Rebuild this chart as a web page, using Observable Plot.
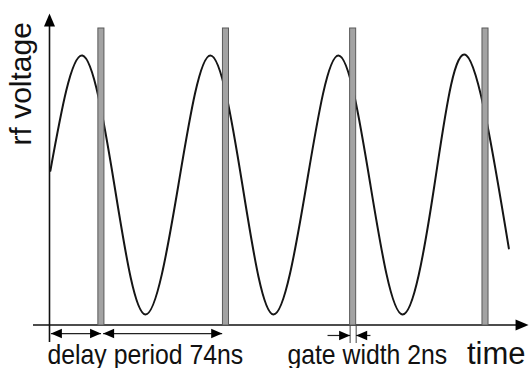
<!DOCTYPE html>
<html>
<head>
<meta charset="utf-8">
<script src="https://cdn.jsdelivr.net/npm/d3@7"></script>
<script src="https://cdn.jsdelivr.net/npm/@observablehq/plot@0.6"></script>
<style>
  html, body { margin: 0; padding: 0; background: #fff; }
</style>
</head>
<body>
<div id="chart"></div>
<script>
// RF waveform read at quarter-period points (time in ns, voltage in units of amplitude)
const waveTime    = [0.5, 19, 37.5, 55.5, 74.5, 93, 111.5, 129.5, 148.5, 167, 185.5, 204, 222.5, 241, 265.5];
const waveVoltage = [0.11, 1, 0, -1, 0, 1, 0, -1, 0, 1, 0, -1, 0, 1, -0.49];

// gate centres (ns) and drawn gate width (ns)
const gateCenters = [30, 102, 175.5, 252];
const gateDrawnWidth = 3.5;

// dimension arrows (ns)
const delaySpan  = [0.8, 29.8];
const periodSpan = [31, 99.8];
const gateArrowFrom = [160.7, 185.5];

// labels
const labelDelay = "delay period 74ns";
const labelGate = "gate width 2ns";
const labelTime = "time";
const labelVoltage = "rf voltage";

const wave = waveTime.map((t, i) => ({t, v: waveVoltage[i]}));
const gates = gateCenters.map(c => ({x1: c - gateDrawnWidth / 2, x2: c + gateDrawnWidth / 2}));
const g3 = gates[2];
const gateArrows = [
  {from: gateArrowFrom[0], to: g3.x1},
  {from: gateArrowFrom[1], to: g3.x2}
];

const axisY = -1.081;   // level of time axis
const dimY = -1.147;    // level of delay/period arrows
const gateY = -1.162;   // level of gate-width arrows

function head(len, w) {
  return {draw(ctx) { ctx.moveTo(0, 0); ctx.lineTo(-w / 2, len); ctx.lineTo(w / 2, len); ctx.closePath(); }};
}
const smallHead = head(11, 9.5);
const bigHead = head(13, 11);

const dimLinks = [
  {x1: delaySpan[0], x2: delaySpan[1], y: dimY},
  {x1: periodSpan[0], x2: periodSpan[1], y: dimY}
];
const dimHeads = [
  {x: delaySpan[0], y: dimY, r: -90},
  {x: delaySpan[1], y: dimY, r: 90},
  {x: periodSpan[0], y: dimY, r: -90},
  {x: periodSpan[1], y: dimY, r: 90},
  ...gateArrows.map(a => ({x: a.to, y: gateY, r: a.to > a.from ? 90 : -90}))
];

const font = "'Liberation Sans', Arial, Helvetica, sans-serif";

const plot = Plot.plot({
  width: 530,
  height: 368,
  margin: 0,
  x: {domain: [0, 252], range: [49, 485], axis: null},
  y: {domain: [-1, 1], range: [314, 55], axis: null},
  style: {fontFamily: font, background: "#fff", color: "#000"},
  marks: [
    // axes
    Plot.ruleY([axisY], {x1: -9.25, x2: 270.5, stroke: "#111", strokeWidth: 1.6}),
    Plot.ruleX([0], {y1: -1.216, y2: 1.232, stroke: "#111", strokeWidth: 1.6}),
    Plot.dot([{x: 276.9, y: axisY}], {x: "x", y: "y", symbol: bigHead, rotate: 90, fill: "#000", stroke: "none"}),
    Plot.dot([{x: 0, y: 1.324}], {x: "x", y: "y", symbol: bigHead, rotate: 0, fill: "#000", stroke: "none"}),
    // waveform
    Plot.line(wave, {x: "t", y: "v", curve: "natural", stroke: "#151515", strokeWidth: 2}),
    // gates
    Plot.rectX(gates, {x1: "x1", x2: "x2", y1: -1.085, y2: 1.2085, fill: "#a3a3a3", stroke: "#5a5a5a", strokeWidth: 1}),
    Plot.ruleX([g3.x1, g3.x2], {y1: -1.085, y2: -1.224, stroke: "#444", strokeWidth: 1}),
    // dimension arrows
    Plot.link(dimLinks, {x1: "x1", x2: "x2", y1: "y", y2: "y", stroke: "#222", strokeWidth: 1.2}),
    Plot.link(gateArrows, {x1: "from", x2: "to", y1: gateY, y2: gateY, stroke: "#222", strokeWidth: 1.2}),
    Plot.dot(dimHeads, {x: "x", y: "y", rotate: "r", symbol: smallHead, fill: "#000", stroke: "none"}),
    // labels
    Plot.text([labelDelay], {x: -1.16, y: -1.386, text: d => d, textAnchor: "start", lineAnchor: "bottom", fontSize: 28.5, fill: "#111"}),
    Plot.text([labelGate], {x: 137.5, y: -1.386, text: d => d, textAnchor: "start", lineAnchor: "bottom", fontSize: 28.5, fill: "#111"}),
    Plot.text([labelTime], {x: 241.3, y: -1.386, text: d => d, textAnchor: "start", lineAnchor: "bottom", fontSize: 31, fill: "#111"}),
    Plot.text([labelVoltage], {x: -10.98, y: 0.305, text: d => d, rotate: -90, textAnchor: "start", lineAnchor: "bottom", fontSize: 30, fill: "#111"})
  ]
});
// the original lettering of the two dimension labels is slightly narrow: compress horizontally
plot.querySelectorAll("text").forEach(t => {
  if (t.textContent !== labelDelay && t.textContent !== labelGate) return;
  const x = +(t.getAttribute("x") || 0), y = +(t.getAttribute("y") || 0);
  t.removeAttribute("x");
  t.removeAttribute("y");
  const tr = t.getAttribute("transform") || "";
  t.setAttribute("transform", `${tr} translate(${x},${y}) scale(0.87,1)`);
});
document.getElementById("chart").appendChild(plot);
</script>
</body>
</html>
